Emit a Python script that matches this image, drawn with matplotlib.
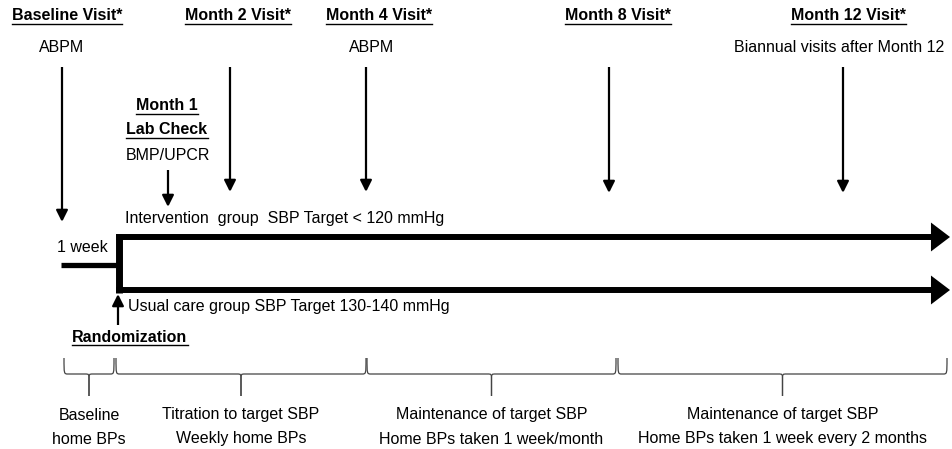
import matplotlib
matplotlib.use('Agg')
import matplotlib.pyplot as plt
from matplotlib.path import Path
from matplotlib.patches import PathPatch

FONT = 'Liberation Sans'
FS = 11.5
plt.rcParams['font.family'] = [FONT, 'DejaVu Sans']

# visits: label, sublabel, label x, arrow x
VISIT_LABELS = ['Baseline Visit*', 'Month 2 Visit*', 'Month 4 Visit*', 'Month 8 Visit*', 'Month 12 Visit*']
VISIT_SUB = ['ABPM', '', 'ABPM', '', 'Biannual visits after Month 12']
VISIT_LABEL_X = [67, 238, 379, 618, 849]
VISIT_SUB_X = [62, 238, 372, 618, 839]
VISIT_ARROW_X = [62, 230, 366, 609, 843]
VISIT_ARROW_END = [222, 192, 192, 193, 193]

# phases along the bottom braces
PHASE_START = [64, 116, 367, 618]
PHASE_END = [114, 366, 616, 947]
PHASE_LINE1 = ['Baseline', 'Titration to target SBP', 'Maintenance of target SBP', 'Maintenance of target SBP']
PHASE_LINE2 = ['home BPs', 'Weekly home BPs', 'Home BPs taken 1 week/month', 'Home BPs taken 1 week every 2 months']

RAND_X = 119
TOP_Y = 237
BOT_Y = 290
RUNIN_Y = 265

fig = plt.figure(figsize=(9.53, 4.49), dpi=100)
ax = fig.add_axes([0, 0, 1, 1])
ax.set_xlim(0, 953)
ax.set_ylim(449, 0)
ax.axis('off')

underline = []


def label(x, y, s, bold=False, ha='center', ul=False):
    t = ax.text(x, y, s, ha=ha, va='center', fontsize=FS,
                fontweight='bold' if bold else 'normal', color='black')
    if ul:
        underline.append(t)
    return t


def thin_arrow(x, y0, y1):
    ax.annotate('', xy=(x, y1), xytext=(x, y0),
                arrowprops=dict(arrowstyle='-|>,head_length=0.5,head_width=0.25',
                                lw=1.6, color='black', mutation_scale=14,
                                shrinkA=0, shrinkB=0, capstyle='butt'))


for i in range(len(VISIT_LABELS)):
    label(VISIT_LABEL_X[i], 16, VISIT_LABELS[i], bold=True, ul=True)
    if VISIT_SUB[i]:
        label(VISIT_SUB_X[i], 48, VISIT_SUB[i])
    thin_arrow(VISIT_ARROW_X[i], 67, VISIT_ARROW_END[i])

label(167, 106, 'Month 1', bold=True, ul=True)
label(167, 130, 'Lab Check', bold=True, ul=True)
label(168, 155, 'BMP/UPCR')
thin_arrow(168, 170, 207)

label(125, 219, 'Intervention  group  SBP Target < 120 mmHg', ha='left')
label(57, 247, '1 week', ha='left')
label(128, 306, 'Usual care group SBP Target 130-140 mmHg', ha='left')
label(130, 337, 'Randomization', bold=True, ul=True)
thin_arrow(118, 325, 294)

# run-in line and randomization split
ax.plot([61, RAND_X], [RUNIN_Y, RUNIN_Y], color='black', lw=3.8, solid_capstyle='butt')
ax.plot([RAND_X, RAND_X], [TOP_Y - 3, BOT_Y + 3], color='black', lw=5.0, solid_capstyle='butt')
for yy in (TOP_Y, BOT_Y):
    ax.annotate('', xy=(950, yy), xytext=(RAND_X - 3, yy),
                arrowprops=dict(arrowstyle='-|>,head_length=0.5,head_width=0.38',
                                lw=4.3, color='black', mutation_scale=16,
                                shrinkA=0, shrinkB=0, capstyle='butt',
                                joinstyle='miter'))

# braces
YT, YM, YTIP = 358, 374, 396
for x0, x1, l1, l2 in zip(PHASE_START, PHASE_END, PHASE_LINE1, PHASE_LINE2):
    xc = (x0 + x1) / 2
    r = 4
    for s, xe in ((1, x0), (-1, x1)):
        verts = [(xe, YT), (xe, YM), (xe, YM), (xe + s * r, YM),
                 (xc - s * r, YM), (xc, YM), (xc, YM), (xc, YM + 6), (xc, YTIP)]
        codes = [Path.MOVETO, Path.CURVE4, Path.CURVE4, Path.CURVE4,
                 Path.LINETO, Path.CURVE4, Path.CURVE4, Path.CURVE4, Path.LINETO]
        ax.add_patch(PathPatch(Path(verts, codes), fill=False, lw=0.9,
                               edgecolor='#444444'))
    label(xc, 415, l1)
    label(xc, 439, l2)

# underlines for bold headings
fig.canvas.draw()
renderer = fig.canvas.get_renderer()
inv = ax.transData.inverted()
for t in underline:
    bb = t.get_window_extent(renderer)
    (xa, ya), (xb, _) = inv.transform([(bb.x0, bb.y0), (bb.x1, bb.y0)])
    ax.plot([xa, xb], [ya + 0.5, ya + 0.5], color='black', lw=1.0)

fig.savefig('out.png', dpi=100)
